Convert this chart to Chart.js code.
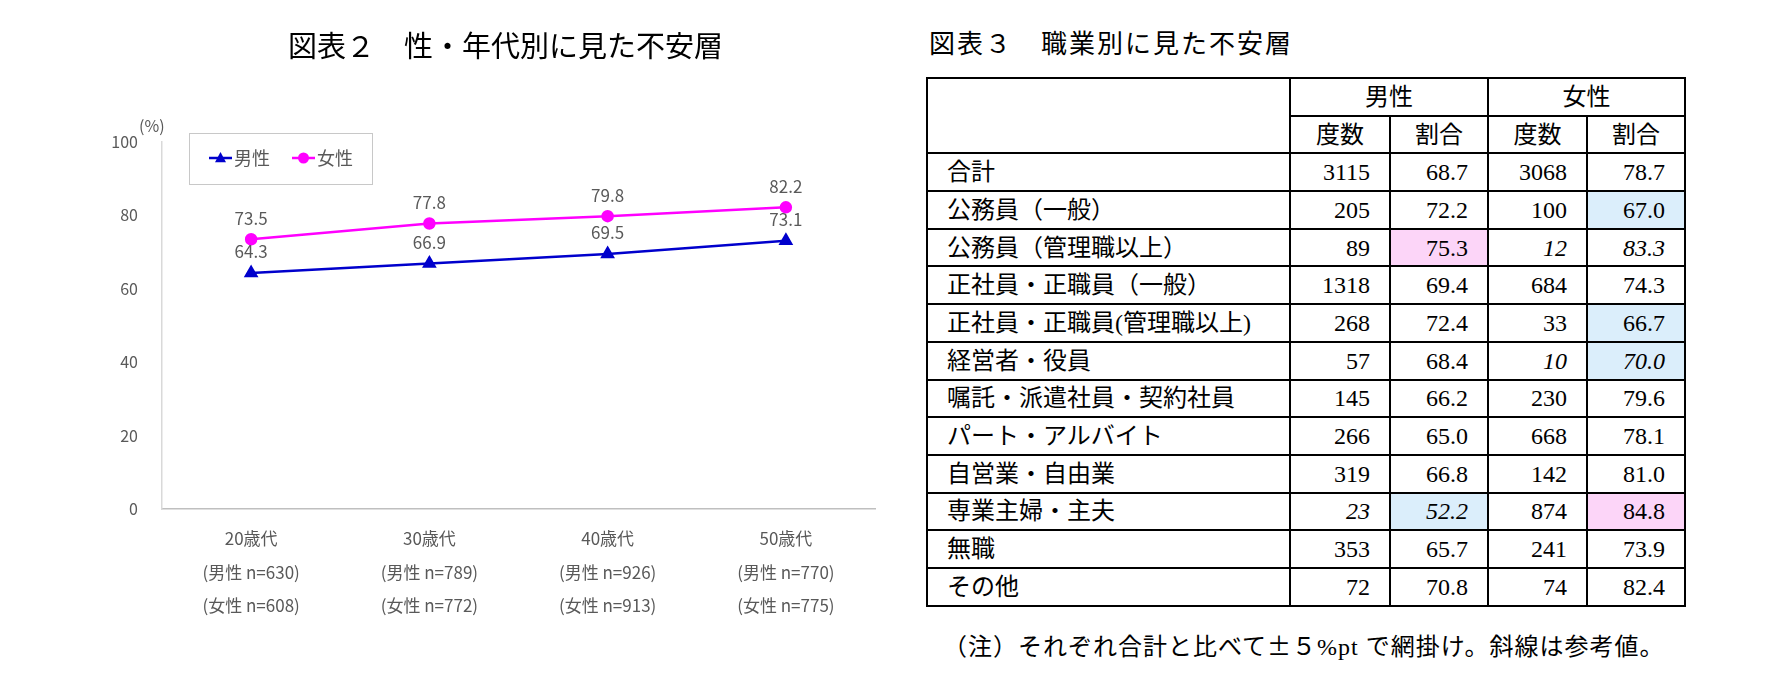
<!DOCTYPE html>
<html lang="ja">
<head>
<meta charset="UTF-8">
<title>不安層</title>
<style>
  html, body { margin: 0; padding: 0; background: #fff; }
  body { width: 1785px; height: 679px; position: relative; overflow: hidden;
         font-family: "Liberation Serif", "Noto Sans CJK JP", serif; color: #000; }
  #chartBox { position: absolute; left: 0; top: 0; width: 910px; height: 679px; }
  #title3 { position: absolute; left: 929px; top: 30px; font-size: 26px; line-height: 30px;
            letter-spacing: 2px; white-space: nowrap; }
  #occTable { position: absolute; left: 926px; top: 77px; width: 758px;
              border-collapse: collapse; table-layout: fixed; font-size: 24px; }
  #occTable td { border: 2px solid #000; padding: 0; height: 35.7px; line-height: 24px; }
  #occTable td.lab { text-align: left; padding-left: 19px; white-space: nowrap; }
  #occTable td.num { text-align: right; padding-right: 19px; }
  #occTable td.hd { text-align: center; }
  #occTable td.it { font-style: italic; }
  #occTable td.up { background: #fcd5f8; }
  #occTable td.down { background: #dbeefb; }
  #note { position: absolute; left: 943px; top: 630px; font-size: 24px; line-height: 30px;
          letter-spacing: 1px; white-space: nowrap; }
  #note .cjk { font-family: "Noto Sans CJK JP", sans-serif; }
</style>
</head>
<body>
<div id="chartBox"><canvas id="ageChart"></canvas></div>
<div id="title3">図表３　職業別に見た不安層</div>
<table id="occTable"></table>
<div id="note">（注）それぞれ合計と比べて<span class="cjk">±</span>５%pt で網掛け。斜線は参考値。</div>

<script src="https://cdn.jsdelivr.net/npm/chart.js"></script>
<script>
// 図表2 data
const ages = ['20歳代', '30歳代', '40歳代', '50歳代'];
const maleN = [630, 789, 926, 770];
const femaleN = [608, 772, 913, 775];
const maleRate = [64.3, 66.9, 69.5, 73.1];
const femaleRate = [73.5, 77.8, 79.8, 82.2];
const yTicks = [0, 20, 40, 60, 80, 100];

// 図表3 data
const occupations = ['合計', '公務員（一般）', '公務員（管理職以上）', '正社員・正職員（一般）',
  '正社員・正職員(管理職以上)', '経営者・役員', '嘱託・派遣社員・契約社員', 'パート・アルバイト',
  '自営業・自由業', '専業主婦・主夫', '無職', 'その他'];
const occMaleCount = [3115, 205, 89, 1318, 268, 57, 145, 266, 319, 23, 353, 72];
const occMaleRate = [68.7, 72.2, 75.3, 69.4, 72.4, 68.4, 66.2, 65.0, 66.8, 52.2, 65.7, 70.8];
const occFemaleCount = [3068, 100, 12, 684, 33, 10, 230, 668, 142, 874, 241, 74];
const occFemaleRate = [78.7, 67.0, 83.3, 74.3, 66.7, 70.0, 79.6, 78.1, 81.0, 84.8, 73.9, 82.4];

const grey = '#595959';
const sans = "'Noto Sans CJK JP', 'Noto Sans', sans-serif";

// ---- table ----
function buildTable() {
  const t = document.getElementById('occTable');
  let html = '<colgroup><col style="width:363px"><col style="width:100px"><col style="width:98px">' +
             '<col style="width:99px"><col style="width:98px"></colgroup>';
  html += '<tr><td rowspan="2"></td><td class="hd" colspan="2">男性</td><td class="hd" colspan="2">女性</td></tr>';
  html += '<tr><td class="hd">度数</td><td class="hd">割合</td><td class="hd">度数</td><td class="hd">割合</td></tr>';
  const mTot = occMaleRate[0], fTot = occFemaleRate[0];
  function cells(count, rate, total) {
    // small samples (< 30) are italic reference values, ±5pt vs total gets shaded
    const it = count < 30 ? ' it' : '';
    let shade = '';
    if (rate - total >= 5) shade = ' up';
    else if (total - rate >= 5) shade = ' down';
    return '<td class="num' + it + '">' + count + '</td>' +
           '<td class="num' + it + shade + '">' + rate.toFixed(1) + '</td>';
  }
  occupations.forEach((name, i) => {
    html += '<tr><td class="lab">' + name + '</td>' +
      cells(occMaleCount[i], occMaleRate[i], mTot) +
      cells(occFemaleCount[i], occFemaleRate[i], fTot) + '</tr>';
  });
  t.innerHTML = html;
}
buildTable();

// ---- chart ----
const chartTitle = '図表２　性・年代別に見た不安層';

const labelPlugin = {
  id: 'valueLabels',
  afterDatasetsDraw(chart) {
    const ctx = chart.ctx;
    ctx.save();
    ctx.font = '17px ' + sans;
    ctx.fillStyle = grey;
    ctx.textAlign = 'center';
    ctx.textBaseline = 'middle';
    chart.data.datasets.forEach((ds, i) => {
      chart.getDatasetMeta(i).data.forEach((pt, j) => {
        ctx.fillText(ds.data[j].toFixed(1), pt.x, pt.y - 21);
      });
    });
    ctx.restore();
  }
};

function drawMarker(ctx, style, x, y, r, color) {
  ctx.fillStyle = color;
  ctx.beginPath();
  if (style === 'triangle') {
    ctx.moveTo(x, y - r * 1.1);
    ctx.lineTo(x + r, y + r * 0.75);
    ctx.lineTo(x - r, y + r * 0.75);
    ctx.closePath();
  } else {
    ctx.arc(x, y, r, 0, Math.PI * 2);
  }
  ctx.fill();
}

const legendPlugin = {
  id: 'boxLegend',
  afterDraw(chart) {
    const ctx = chart.ctx;
    const a = chart.chartArea;
    ctx.save();
    // title, a little left of the plot centre as in the source
    ctx.font = '29px ' + sans;
    ctx.fillStyle = '#000';
    ctx.textAlign = 'center';
    ctx.textBaseline = 'middle';
    ctx.fillText(chartTitle, (a.left + a.right) / 2 - 13, 46);

    const bx = a.left + 27, by = a.top - 9, bw = 183, bh = 51;
    ctx.strokeStyle = '#c8c8c8';
    ctx.lineWidth = 1;
    ctx.strokeRect(bx + 0.5, by + 0.5, bw, bh);
    ctx.font = '18px ' + sans;
    chart.data.datasets.forEach((ds, i) => {
      const x0 = bx + 20 + i * 83, y = by + 25;
      ctx.strokeStyle = ds.borderColor;
      ctx.lineWidth = 2.5;
      ctx.beginPath();
      ctx.moveTo(x0, y);
      ctx.lineTo(x0 + 23, y);
      ctx.stroke();
      drawMarker(ctx, ds.pointStyle, x0 + 11.5, y, 5.5, ds.borderColor);
      ctx.fillStyle = grey;
      ctx.textAlign = 'left';
      ctx.fillText(ds.label, x0 + 25, y);
    });
    // unit label
    ctx.font = '16px ' + sans;
    ctx.fillStyle = grey;
    ctx.fillText('(%)', a.left - 23, a.top - 16);
    ctx.restore();
  }
};

new Chart(document.getElementById('ageChart'), {
  type: 'line',
  data: {
    labels: ages.map((a, i) => [a, '(男性 n=' + maleN[i] + ')', '(女性 n=' + femaleN[i] + ')']),
    datasets: [
      { label: '男性', data: maleRate, borderColor: '#0000cc', backgroundColor: '#0000cc',
        pointBackgroundColor: '#0000cc', pointBorderColor: '#0000cc', pointStyle: 'triangle',
        pointRadius: 6, borderWidth: 2.5, tension: 0 },
      { label: '女性', data: femaleRate, borderColor: '#ff00ff', backgroundColor: '#ff00ff',
        pointBackgroundColor: '#ff00ff', pointBorderColor: '#ff00ff', pointStyle: 'circle',
        pointRadius: 5, borderWidth: 2.5, tension: 0 }
    ]
  },
  options: {
    responsive: true,
    maintainAspectRatio: false,
    animation: false,
    layout: { padding: { left: 0, right: 35, top: 142, bottom: 0 } },
    plugins: {
      legend: { display: false },
      tooltip: { enabled: false },
      title: { display: false }
    },
    scales: {
      x: {
        offset: true,
        grid: { display: false, drawTicks: false },
        border: { display: true, color: '#bfbfbf', width: 1.5 },
        ticks: { color: grey, padding: 13, font: { family: sans, size: 17, lineHeight: 1.97 },
                 maxRotation: 0, autoSkip: false },
        afterFit(s) { s.height = 170; }
      },
      y: {
        min: yTicks[0],
        max: yTicks[yTicks.length - 1],
        grid: { display: false, drawTicks: false },
        border: { display: true, color: '#d9d9d9', width: 1.5 },
        ticks: { stepSize: yTicks[1] - yTicks[0], color: grey, padding: 24,
                 font: { family: sans, size: 16 } },
        afterFit(s) { s.width = 162; }
      }
    }
  },
  plugins: [labelPlugin, legendPlugin]
});
</script>
</body>
</html>
